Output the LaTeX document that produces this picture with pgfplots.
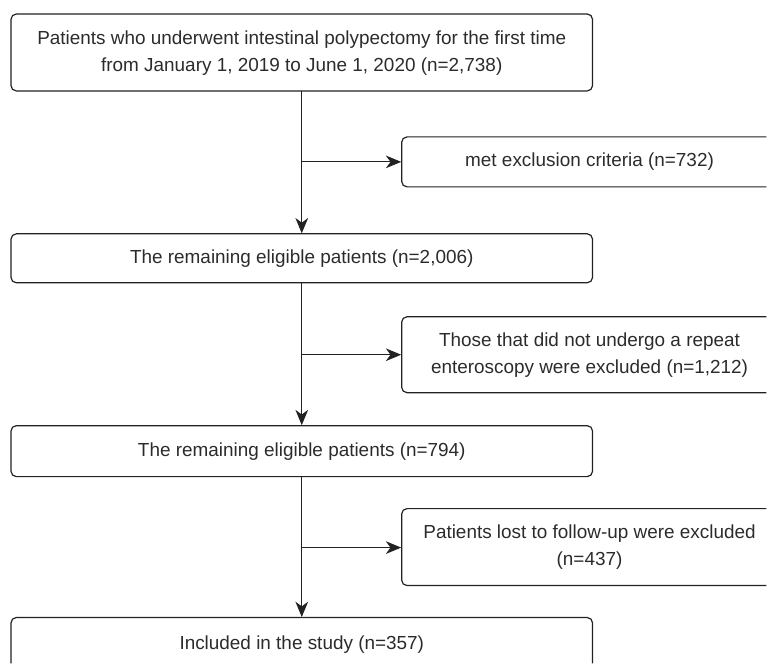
\documentclass[border=0pt]{standalone}
\usepackage{pgfplots}
\pgfplotsset{compat=1.18}
\usepackage{fontspec}
\setmainfont{Liberation Sans}
\usetikzlibrary{arrows.meta}
\definecolor{ln}{HTML}{222222}
\definecolor{tx}{HTML}{2B2B2B}
\begin{document}
\begin{tikzpicture}
\begin{axis}[
  width=575.25pt, height=498pt, scale only axis,
  xmin=0, xmax=767, ymin=0, ymax=664, y dir=reverse,
  hide axis, clip=false,
]
\path (0,0) rectangle (767,664);
\tikzset{
  bx/.style={draw=ln, line width=0.9pt, rounded corners=4pt},
  ar/.style={draw=ln, line width=0.9pt, -{Stealth[length=11.5pt,width=9.5pt,inset=3.5pt]}},
  lbl/.style={text=tx, font=\fontsize{14.2}{20.25}\selectfont, align=center, inner sep=0pt},
}
% main boxes
\draw[bx] (11,14) rectangle (593,91);
\draw[bx] (11,234) rectangle (593,283);
\draw[bx] (11,426) rectangle (593,477);
\draw[bx] (11,664) -- (11,618) -- (593,618) -- (593,664);
% side boxes (cut at the right edge)
\draw[bx] (767,137) -- (402,137) -- (402,187) -- (767,187);
\draw[bx] (767,317) -- (402,317) -- (402,393) -- (767,393);
\draw[bx] (767,509) -- (402,509) -- (402,586) -- (767,586);
% arrows
\draw[ar] (302,91) -- (302,233.5);
\draw[ar] (302,162) -- (401.5,162);
\draw[ar] (302,283) -- (302,425.5);
\draw[ar] (302,355) -- (401.5,355);
\draw[ar] (302,477) -- (302,617.5);
\draw[ar] (302,548) -- (401.5,548);
% labels
\node[lbl] at (302,53) {Patients who underwent intestinal polypectomy for the first time\\from January 1, 2019 to June 1, 2020 (n=2,738)};
\node[lbl] at (590,162) {met exclusion criteria (n=732)};
\node[lbl] at (302,258.5) {The remaining eligible patients (n=2,006)};
\node[lbl] at (590,355) {Those that did not undergo a repeat\\enteroscopy were excluded (n=1,212)};
\node[lbl] at (302,451.5) {The remaining eligible patients (n=794)};
\node[lbl] at (590,547.5) {Patients lost to follow-up were excluded\\(n=437)};
\node[lbl] at (302,645) {Included in the study (n=357)};
\end{axis}
\end{tikzpicture}
\end{document}
